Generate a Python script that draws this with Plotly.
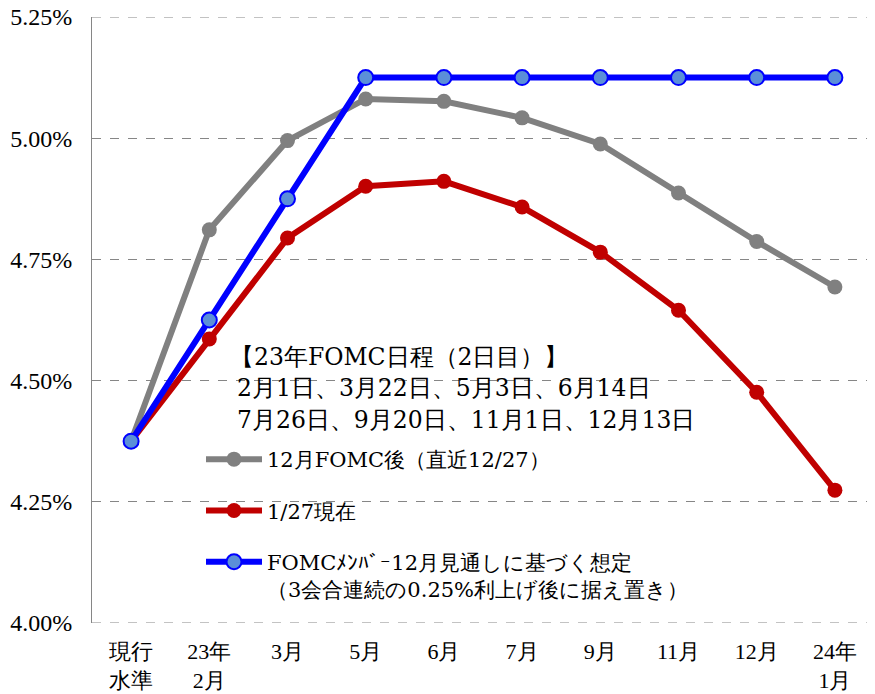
import plotly.graph_objects as go

categories = ["現行<br>水準", "23年<br>2月", "3月", "5月", "6月", "7月", "9月", "11月", "12月", "24年<br>1月"]
after_dec_fomc = [4.375, 4.811, 4.995, 5.081, 5.076, 5.042, 4.988, 4.887, 4.787, 4.693]
as_of_jan27 = [4.375, 4.586, 4.794, 4.901, 4.911, 4.858, 4.765, 4.645, 4.476, 4.274]
fomc_members = [4.375, 4.625, 4.875, 5.125, 5.125, 5.125, 5.125, 5.125, 5.125, 5.125]

y_ticks = [4.00, 4.25, 4.50, 4.75, 5.00, 5.25]
y_ticktext = ["4.00%", "4.25%", "4.50%", "4.75%", "5.00%", "5.25%"]

names = [
    "12月FOMC後（直近12/27）",
    "1/27現在",
    "FOMCﾒﾝﾊﾞｰ12月見通しに基づく想定<br>（3会合連続の0.25%利上げ後に据え置き）",
]
header_lines = [
    "【23年FOMC日程（2日目）】",
    "2月1日、3月22日、5月3日、6月14日",
    "7月26日、9月20日、11月1日、12月13日",
]

SERIF = "DejaVu Serif"
TICK = "Liberation Serif"

# page body adds an 8px offset; screen-space plot box is 92..874 x 17..623
OFF = 8
SL, ST, SR, SB = 92, 17, 874, 623
PW, PH = SR - SL, SB - ST

def px_x(x):
    return (x - SL) / PW

def px_y(y):
    return 1 - (y - ST) / PH

fig = go.Figure()
fig.add_trace(go.Scatter(
    x=categories, y=after_dec_fomc, name=names[0], legendgroup="a", mode="lines+markers",
    line=dict(color="#808080", width=6),
    marker=dict(color="#808080", size=15, line=dict(width=0)),
))
fig.add_trace(go.Scatter(
    x=categories, y=as_of_jan27, name=names[1], legendgroup="b", mode="lines+markers",
    line=dict(color="#c00000", width=6),
    marker=dict(color="#c00000", size=15, line=dict(width=0)),
))
fig.add_trace(go.Scatter(
    x=categories, y=fomc_members, name=names[2], legendgroup="c", mode="lines+markers",
    line=dict(color="#0000ff", width=6),
    marker=dict(color="#5b8fd8", size=15, line=dict(color="#0000ff", width=2)),
))

for i, t in enumerate(header_lines):
    fig.add_annotation(
        text=t, xref="paper", yref="paper", x=px_x(228 if i == 0 else 235), y=px_y(357 + i * 31.5),
        xanchor="left", yanchor="middle", showarrow=False,
        font=dict(family=SERIF, size=23.5, color="#000000"),
    )

# edge gridlines (top 5.25% and bottom 4.00%) and light right border
for yv in (y_ticks[0], y_ticks[-1]):
    fig.add_shape(type="line", xref="paper", yref="y", x0=0, x1=1, y0=yv, y1=yv,
                  line=dict(color="#868686", width=1, dash="dash"), layer="below")
fig.add_shape(type="line", xref="paper", yref="paper", x0=1, x1=1, y0=0, y1=1,
              line=dict(color="#d9d9d9", width=1))

fig.update_layout(
    width=875, height=694,
    margin=dict(l=SL - OFF, r=875 - (SR - OFF), t=ST - OFF, b=694 - (SB - OFF), autoexpand=False),
    paper_bgcolor="white", plot_bgcolor="white",
    showlegend=True,
    legend=dict(
        x=px_x(201), y=px_y(439), xanchor="left", yanchor="top",
        bgcolor="rgba(0,0,0,0)", borderwidth=0,
        font=dict(family=SERIF, size=21, color="#000000"),
        itemwidth=56, traceorder="grouped", tracegroupgap=21, valign="top",
    ),
    xaxis=dict(
        type="category", range=[-0.5, len(categories) - 0.5],
        showgrid=False, showline=False, zeroline=False,
        tickfont=dict(family=TICK, size=22, color="#000000"), ticks="",
        ticklabelstandoff=13, automargin=False,
    ),
    yaxis=dict(
        range=[4.0, 5.25], tickvals=y_ticks, ticktext=y_ticktext,
        showgrid=True, gridcolor="#868686", griddash="dash", gridwidth=1,
        showline=True, linecolor="#868686", linewidth=1, zeroline=False,
        tickfont=dict(family=TICK, size=24, color="#000000"), ticks="",
        ticklabelstandoff=14, automargin=False, ticklabeloverflow="allow",
    ),
)

fig.write_html("out.html")
